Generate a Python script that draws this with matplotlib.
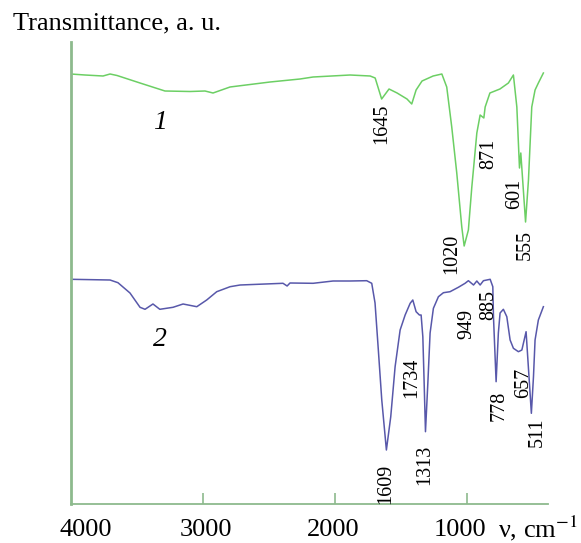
import matplotlib
matplotlib.use("Agg")
import matplotlib.pyplot as plt
import matplotlib.transforms as mtransforms

plt.rcParams["font.family"] = ["Liberation Serif", "DejaVu Serif"]
plt.rcParams["mathtext.fontset"] = "stix"

# ── Spectrum 1 (green) : wavenumber (cm-1) vs transmittance (a.u.) ───────────
nu_1 = [4000, 3892, 3755, 3702, 3649, 3475, 3286, 3096, 2983, 2922, 2793,
        2490, 2263, 2164, 1884, 1732, 1694, 1645, 1589, 1528, 1453, 1417,
        1384, 1339, 1255, 1189, 1152, 1114, 1076, 1038, 1020, 988, 962, 924,
        899, 871, 861, 825, 749, 685, 647, 621, 601, 591, 555, 533, 508, 483,
        458, 420]
t_1 = [430, 429, 428, 430, 428.5, 421, 413, 412.5, 413, 411, 417,
       422, 425, 427, 429, 428, 426, 405, 415, 411, 405, 400,
       414, 423, 428, 430, 417, 377, 331, 277, 258, 274, 317, 371,
       389, 386, 397, 411, 415, 421, 429, 397, 336, 351, 282, 324, 397, 414,
       421, 431]

# ── Spectrum 2 (blue) ────────────────────────────────────────────────────────
nu_2 = [4000, 3702, 3642, 3551, 3475, 3437, 3377, 3325, 3225, 3149, 3045,
        2970, 2894, 2793, 2717, 2392, 2361, 2339, 2164, 2013, 1884, 1758,
        1720, 1695, 1670, 1644, 1609, 1576, 1543, 1505, 1467, 1429, 1409,
        1384, 1359, 1346, 1333, 1323, 1313, 1295, 1278, 1253, 1215, 1177,
        1127, 1064, 1013, 988, 949, 924, 899, 874, 823, 803, 798, 778, 761,
        748, 723, 697, 672, 647, 609, 583, 551, 511, 495, 483, 458, 420]
t_2 = [224.7, 224, 221.3, 211, 196.7, 194.7, 200, 194.7, 196.7, 200, 197.3,
       204, 212.3, 217.3, 219, 220.7, 218, 221, 220.7, 223, 223, 223.3,
       220.7, 201, 154, 104, 54, 87.3, 137.3, 174, 189, 200.7, 204,
       192.3, 189, 189, 167.3, 121, 72.3, 121, 171, 195.7, 207.3, 211.3,
       212.3, 216.7, 220.7, 223.3, 219, 223, 219, 223.3, 224.7, 217.3, 187.3,
       122.3, 171, 191, 194.7, 187.3, 164, 155.7, 152.3, 154, 172.3, 90.7,
       127.3, 164, 184, 197.3]

# peak labels: text and where they sit (nu, T)
peaks_1 = ["1645", "1020", "871", "601", "555"]
peaks_1_pos = [(1644, 380), (1114, 250), (836, 350), (634, 310.5), (558, 259)]
peaks_2 = ["1609", "1734", "1313", "949", "885", "778", "657", "511"]
peaks_2_pos = [(1615, 20), (1417, 126.5), (1319, 39), (1000, 180),
               (836, 199), (753, 98), (571, 121), (470, 71.5)]

x_ticks = [4000, 3000, 2000, 1000]
x_tick_labels = ["4000", "3000", "2000", "1000"]

GREEN = "#6ccf64"
BLUE = "#5858aa"
AXIS = "#8dba8d"

fig = plt.figure(figsize=(5.81, 5.43), dpi=100)
ax = fig.add_axes([70.7 / 581, 39 / 543, (548 - 70.7) / 581, 462 / 543])

ax.plot(nu_1, t_1, color=GREEN, lw=1.1)
ax.plot(nu_2, t_2, color=BLUE, lw=1.1)

for txt, (x, y) in zip(peaks_1 + peaks_2, peaks_1_pos + peaks_2_pos):
    ax.text(x, y, txt, rotation=90, ha="center", va="center", fontsize=14.5)

ax.text(3323, 381, "1", fontsize=20, style="italic", ha="center", va="center")
ax.text(3323, 165, "2", fontsize=20, style="italic", ha="center", va="center")

ax.set_xlim(4000, 385)
ax.set_ylim(0, 462)
ax.set_yticks([])
ax.set_xticks(x_ticks)
ax.set_xticklabels(x_tick_labels, fontsize=19)
ax.tick_params(axis="x", direction="in", length=8, width=1.2, color=AXIS, pad=11)
ax.xaxis.get_major_ticks()[0].tick1line.set_visible(False)

# nudge tick labels to where they sit in the original
for lab, dx in zip(ax.get_xticklabels(), [15, 3, -2, -7]):
    off = mtransforms.ScaledTranslation(dx / 100, 0, fig.dpi_scale_trans)
    lab.set_transform(lab.get_transform() + off)

for side in ["top", "right"]:
    ax.spines[side].set_visible(False)
ax.spines["left"].set_color(AXIS)
ax.spines["left"].set_linewidth(2.0)
ax.spines["bottom"].set_color(AXIS)
ax.spines["bottom"].set_linewidth(1.3)

fig.text(13 / 581, 1 - 23 / 543, "Transmittance, a. u.", fontsize=19,
         ha="left", va="center")
fig.text(498 / 581, 1 - 528 / 543, r"ν, cm$^{-1}$", fontsize=19,
         ha="left", va="center")

fig.savefig("out.png", dpi=100)
